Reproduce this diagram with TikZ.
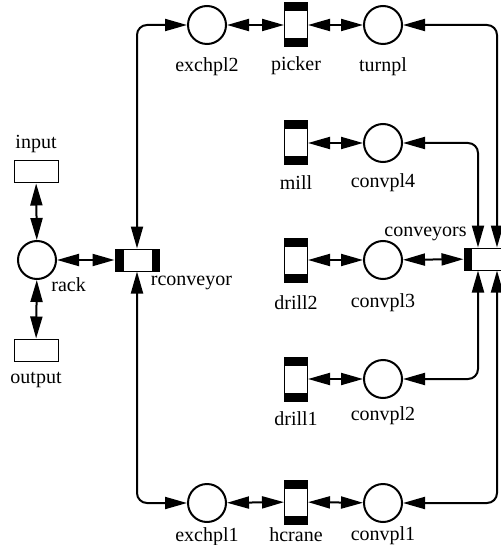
\documentclass[tikz,border=0pt]{standalone}
\usepackage{fontspec}
\setmainfont{Liberation Serif}
\usetikzlibrary{arrows.meta}
\newcommand{\vbands}[1]{\fill (#1.north west) rectangle ([yshift=-4.5pt]#1.north east); \fill (#1.south west) rectangle ([yshift=4.5pt]#1.south east);}
\newcommand{\hbands}[1]{\fill (#1.north west) rectangle ([xshift=4.5pt]#1.south west); \fill (#1.north east) rectangle ([xshift=-4pt]#1.south east);}
\tikzset{
  place/.style={circle,draw,line width=1pt,minimum size=19pt,inner sep=0pt},
  vtrans/.style={rectangle,draw,line width=0.5pt,fill=white,minimum width=11.5pt,minimum height=22pt,inner sep=0pt},
  htrans/.style={rectangle,draw,line width=0.5pt,fill=white,minimum width=22pt,minimum height=11pt,inner sep=0pt},
  halftrans/.style={htrans,minimum width=18.5pt},
  iobox/.style={rectangle,draw,line width=0.5pt,minimum width=22pt,minimum height=11pt,inner sep=0pt},
  lbl/.style={font=\fontsize{10}{12}\selectfont,inner sep=1pt},
  arc/.style={{Triangle[length=11pt,width=6pt]}-{Triangle[length=11pt,width=6pt]},line width=1pt,rounded corners=5pt}
}

\begin{document}
\begin{tikzpicture}[x=0.5pt,y=-0.5pt]
    \useasboundingbox (0,0) rectangle (501,545);
    %rack side
    \node[place] (rack) at (37,260) {};
    \node[lbl,anchor=north west] (racklbl) at (49,275) {rack};
    \node[iobox,label={[lbl,label distance=2.5pt]above:input}] (input) at (36,172) {};
    \node[iobox,label={[lbl,label distance=4pt]below:output}] (output) at (36,350) {};
    \node[htrans,label={[lbl,yshift=-1pt]below right:rconveyor}] (rconveyor) at (137,260) {};
    %top row
    \node[place,label={[lbl,label distance=5pt]below:exchpl2}] (exchpl2) at (207,25) {};
    \node[vtrans,label={[lbl,label distance=3.5pt]below:picker}] (picker) at (296,25) {};
    \node[place,label={[lbl,label distance=5pt]below:turnpl}] (turnpl) at (383,25) {};
    %machines
    \node[vtrans,label={[lbl,label distance=4pt]below:mill}] (mill) at (296,143) {};
    \node[place,label={[lbl,label distance=4pt]below:convpl4}] (convpl4) at (383,143) {};
    \node[vtrans,label={[lbl,label distance=5.5pt]below:drill2}] (drill2) at (296,260) {};
    \node[place,label={[lbl,label distance=5.5pt]below:convpl3}] (convpl3) at (383,260) {};
    \node[vtrans,label={[lbl,label distance=4pt]below:drill1}] (drill1) at (296,379) {};
    \node[place,label={[lbl,label distance=2.5pt]below:convpl2}] (convpl2) at (383,379) {};
    \node[halftrans,label={[lbl,xshift=-1pt,yshift=2pt]above left:conveyors}] (conveyors) at (482.5,259) {};
    %bottom row
    \node[place,label={[lbl,label distance=1pt]below:exchpl1}] (exchpl1) at (207,503) {};
    \node[vtrans,label={[lbl,label distance=0.5pt]below:hcrane}] (hcrane) at (296,502) {};
    \node[place,label={[lbl,label distance=0.5pt]below:convpl1}] (convpl1) at (383,503) {};
    %black ends of the transitions
    \vbands{picker} \vbands{mill} \vbands{drill2} \vbands{drill1} \vbands{hcrane}
    \hbands{rconveyor}
    \fill (conveyors.north west) rectangle ([xshift=4pt]conveyors.south west);
    %arcs
    \draw[arc] (input) -- (rack);
    \draw[arc] (rack) -- (output);
    \draw[arc] (rack) -- (rconveyor);
    \draw[arc] (rconveyor.north) |- (exchpl2.west);
    \draw[arc] (rconveyor.south) |- (exchpl1.west);
    \draw[arc] (exchpl2) -- (picker);
    \draw[arc] (picker) -- (turnpl);
    \draw[arc] (exchpl1) -- (hcrane);
    \draw[arc] (hcrane) -- (convpl1);
    \draw[arc] (mill) -- (convpl4);
    \draw[arc] (drill2) -- (convpl3);
    \draw[arc] (drill1) -- (convpl2);
    \draw[arc] (convpl3) -- (conveyors);
    \draw[arc] (convpl4.east) -| ([xshift=-2.25pt]conveyors.north);
    \draw[arc] (turnpl.east) -| ([xshift=7.25pt]conveyors.north);
    \draw[arc] (convpl2.east) -| ([xshift=-2.25pt]conveyors.south);
    \draw[arc] (convpl1.east) -| ([xshift=7.25pt]conveyors.south);
\end{tikzpicture}
\end{document}
